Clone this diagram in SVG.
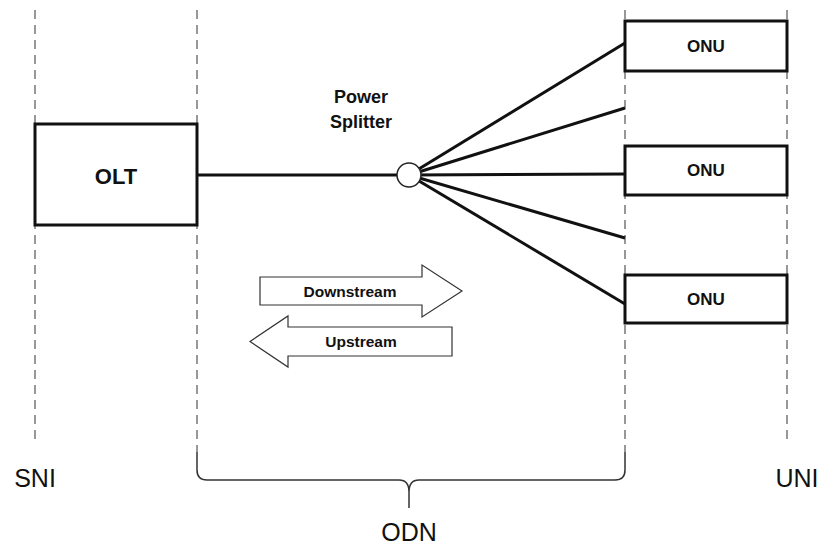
<svg xmlns="http://www.w3.org/2000/svg" width="823" height="545" viewBox="0 0 823 545">
<style>
.dash{stroke:#777;stroke-width:1.5;stroke-dasharray:9,6;fill:none}
.box{fill:#fff;stroke:#111;stroke-width:3}
.fiber{stroke:#111;stroke-width:3;fill:none}
.arrow{fill:#fff;stroke:#333;stroke-width:1.2}
.lbl{font-family:"Liberation Sans",Arial,sans-serif;font-weight:bold;fill:#111;text-anchor:middle}
.onu{font-size:17px}
.big{font-family:"Liberation Sans",Arial,sans-serif;fill:#111;text-anchor:middle;font-size:25px}
</style>
<rect width="823" height="545" fill="#fff"/>
<g id="boundaries">
<line class="dash" x1="35" y1="10" x2="35" y2="440"/>
<line class="dash" x1="197" y1="10" x2="197" y2="452"/>
<line class="dash" x1="625" y1="10" x2="625" y2="452"/>
<line class="dash" x1="787" y1="10" x2="787" y2="440"/>
</g>
<g id="connectors">
<line class="fiber" x1="197" y1="175" x2="409" y2="175"/>
<line class="fiber" x1="409" y1="175" x2="625" y2="43"/>
<line class="fiber" x1="409" y1="175" x2="625" y2="108"/>
<line class="fiber" x1="409" y1="175" x2="625" y2="174"/>
<line class="fiber" x1="409" y1="175" x2="625" y2="238"/>
<line class="fiber" x1="409" y1="175" x2="625" y2="304"/>
</g>
<g id="olt">
<rect class="box" x="35" y="124" width="162" height="101"/>
<text class="lbl" x="116" y="184" font-size="22">OLT</text>
</g>
<g id="splitter">
<circle cx="409" cy="175" r="12" fill="#fff" stroke="#222" stroke-width="1.5"/>
<text class="lbl" x="361" y="103" font-size="18">Power</text>
<text class="lbl" x="361" y="128" font-size="18">Splitter</text>
</g>
<g id="onu1">
<rect class="box" x="625" y="21" width="162" height="50"/>
<text class="lbl onu" x="706" y="52">ONU</text>
</g>
<g id="onu2">
<rect class="box" x="625" y="146" width="162" height="49"/>
<text class="lbl onu" x="706" y="176">ONU</text>
</g>
<g id="onu3">
<rect class="box" x="625" y="275" width="162" height="48"/>
<text class="lbl onu" x="706" y="305">ONU</text>
</g>
<g id="downstream">
<polygon class="arrow" points="260,277 422,277 422,265 462,291 422,317 422,305 260,305"/>
<text class="lbl" x="350" y="296.5" font-size="15.5">Downstream</text>
</g>
<g id="upstream">
<polygon class="arrow" points="452,327 288,327 288,316 250,341.5 288,367 288,356 452,356"/>
<text class="lbl" x="361" y="347" font-size="15.5">Upstream</text>
</g>
<g id="odn-brace">
<path d="M197,452 L197,470 Q197,480 207,480 L399,480 Q409,480 409,492 L409,508 M409,492 Q409,480 419,480 L615,480 Q625,480 625,470 L625,452" fill="none" stroke="#333" stroke-width="1.5"/>
</g>
<g id="labels">
<text class="big" x="35" y="487">SNI</text>
<text class="big" x="797" y="487">UNI</text>
<text class="big" x="409" y="541">ODN</text>
</g>
</svg>
